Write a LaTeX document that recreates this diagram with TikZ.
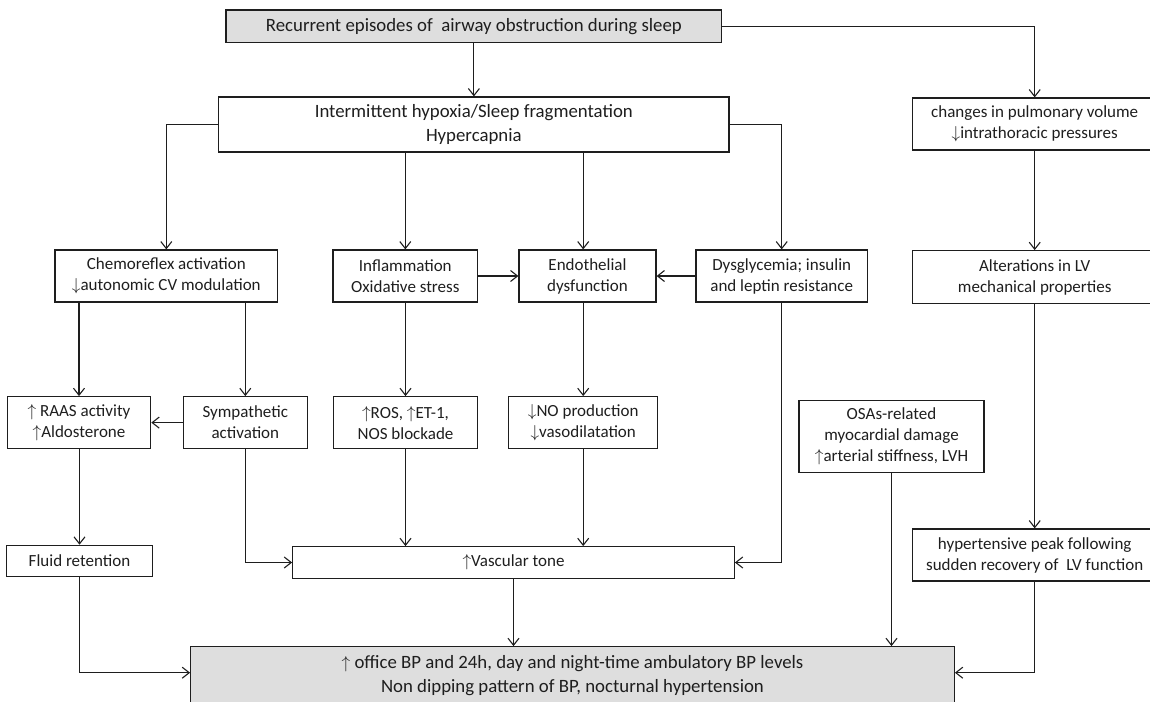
\documentclass[tikz,border=0pt]{standalone}
\usepackage{fontspec}
\setmainfont{Carlito}
\usetikzlibrary{arrows.meta}
\definecolor{boxgray}{HTML}{DEDEDE}
\definecolor{ink}{HTML}{1E1E1E}
\newcommand\upar{\ensuremath{\uparrow}}
\newcommand\dnar{\ensuremath{\downarrow}}
\begin{document}
\begin{tikzpicture}[x=1pt,y=-1pt,
  box/.style={draw=ink, line width=1.2pt, text=ink, align=center, inner sep=0pt,
              font=\fontsize{17}{21}\selectfont},
  gbox/.style={box, fill=boxgray},
  bigtext/.style={font=\fontsize{18.8}{23.5}\selectfont},
  arr/.style={draw=ink, line width=1.1pt, -{Straight Barb[length=7pt,width=11pt]}}]
\useasboundingbox (0,0) rectangle (1150,701);

% nodes
\node[gbox, bigtext, minimum width=495.7pt, minimum height=32.7pt] (top) at (473.9,26.3)
  {Recurrent episodes of\ \ airway obstruction during sleep};
\node[box, bigtext, minimum width=510.3pt, minimum height=55pt] (hyp) at (473.8,124.5)
  {Intermittent hypoxia/Sleep fragmentation\\Hypercapnia};
\node[box, minimum width=245pt, minimum height=52pt] (pul) at (1034.7,124)
  {changes in pulmonary volume\\\dnar intrathoracic pressures};

\node[box, minimum width=222.7pt, minimum height=52pt] (chemo) at (166.3,276)
  {Chemoreflex activation\\\dnar autonomic CV modulation};
\node[box, minimum width=144.7pt, minimum height=52pt] (infl) at (405.3,276)
  {Inflammation\\Oxidative stress};
\node[box, minimum width=137pt, minimum height=52pt] (endo) at (587.5,276)
  {Endothelial\\dysfunction};
\node[box, minimum width=171.3pt, minimum height=52pt] (dysg) at (781.7,276)
  {Dysglycemia; insulin\\and leptin resistance};
\node[box, minimum width=245pt, minimum height=52.6pt] (alt) at (1034.7,277)
  {Alterations in LV\\mechanical properties};

\node[box, minimum width=143.4pt, minimum height=51.8pt] (raas) at (79,422.6)
  {\upar\ RAAS activity\\\upar Aldosterone};
\node[box, minimum width=124pt, minimum height=51.8pt] (symp) at (245.3,422.6)
  {Sympathetic\\activation};
\node[box, minimum width=144.4pt, minimum height=51.8pt] (ros) at (405.5,422.6)
  {\upar ROS, \upar ET-1,\\NOS blockade};
\node[box, minimum width=149pt, minimum height=51.8pt] (no) at (583.2,422.6)
  {\dnar NO production\\\dnar vasodilatation};
\node[box, minimum width=185pt, minimum height=72pt] (osa) at (891.5,436.7)
  {OSAs-related\\myocardial damage\\\upar arterial stiffness, LVH};

\node[box, minimum width=145.6pt, minimum height=31.4pt] (fluid) at (79.5,561)
  {Fluid retention};
\node[box, minimum width=441.6pt, minimum height=31.6pt] (vasc) at (513.5,562.5)
  {\upar Vascular tone};
\node[box, minimum width=245pt, minimum height=52pt] (hpk) at (1034.7,555)
  {hypertensive peak following\\sudden recovery of\ \ LV function};

\node[gbox, bigtext, minimum width=763.6pt, minimum height=58pt] (bp) at (572.5,675.7)
  {\upar\ office BP and 24h, day and night-time ambulatory BP levels\\Non dipping pattern of BP, nocturnal hypertension};

% connectors
\draw[arr] (top.south) -- (top.south |- hyp.north);
\draw[arr] (top.east) -| (pul.north);
\draw[arr] (hyp.west) -| (chemo.north);
\draw[arr] (infl.north |- hyp.south) -- (infl.north);
\draw[arr] (no.north |- hyp.south) -- (no.north |- endo.north);
\draw[arr] (hyp.east) -| (dysg.north);
\draw[arr] (pul) -- (alt);

\draw[arr] (infl.east) -- (endo.west);
\draw[arr] (dysg.west) -- (endo.east);

\draw[arr] (raas.north |- chemo.south) -- (raas.north);
\draw[arr] (symp.north |- chemo.south) -- (symp.north);
\draw[arr] (symp.west) -- (raas.east);
\draw[arr] (ros.north |- infl.south) -- (ros.north);
\draw[arr] (no.north |- endo.south) -- (no.north);

\draw[arr] (fluid.north |- raas.south) -- (fluid.north);
\draw[arr] (symp.south) |- (vasc.west);
\draw[arr] (ros.south) -- (ros.south |- vasc.north);
\draw[arr] (no.south) -- (no.south |- vasc.north);
\draw[arr] (dysg.south) |- (vasc.east);
\draw[arr] (alt) -- (hpk);

\draw[arr] (vasc.south) -- (vasc.south |- bp.north);
\draw[arr] (fluid.south) |- ([yshift=-26.6pt]bp.north west);
\draw[arr] (osa.south) -- (osa.south |- bp.north);
\draw[arr] (hpk.south) |- ([yshift=-26.6pt]bp.north east);
\end{tikzpicture}
\end{document}
